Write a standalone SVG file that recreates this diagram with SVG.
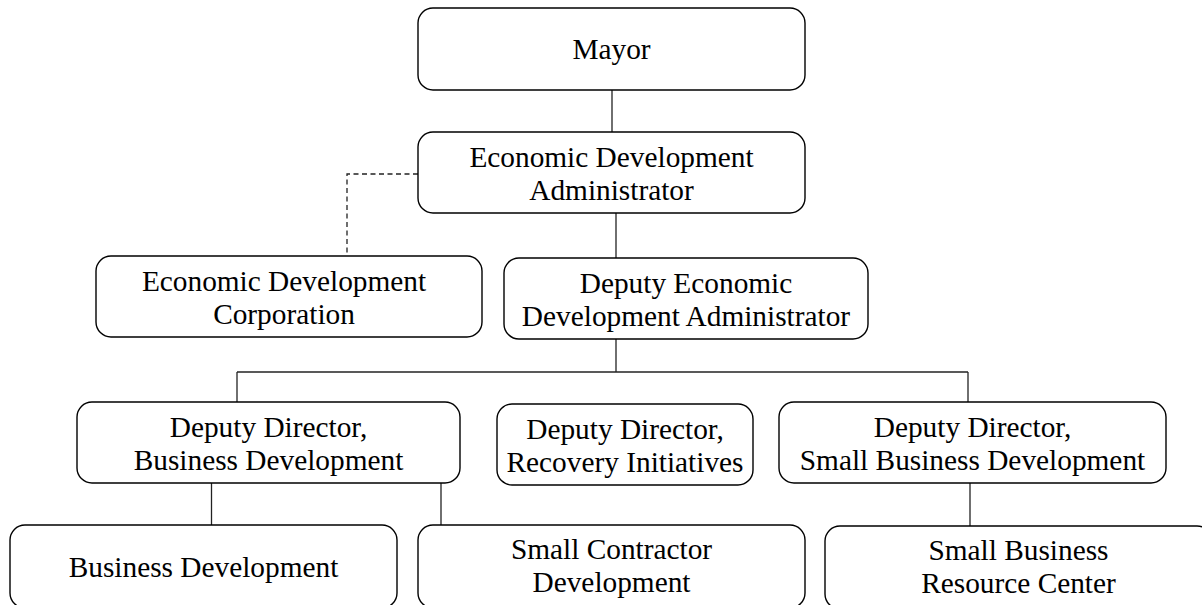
<svg xmlns="http://www.w3.org/2000/svg" width="1202" height="605" viewBox="0 0 1202 605">
<style>
.box{fill:#fff;stroke:#000;stroke-width:1.4}
.t{font-family:"Liberation Serif","Times New Roman",serif;font-size:29.33px;fill:#000;text-anchor:middle}
.c{fill:none;stroke:#222;stroke-width:1.3}
.d{fill:none;stroke:#222;stroke-width:1.3;stroke-dasharray:5,3.5}
</style>
<rect width="1202" height="605" fill="#fff"/>
<g id="connectors">
<path class="c" d="M612,90V132"/>
<path class="d" d="M418,174H347V256"/>
<path class="c" d="M616,213V258"/>
<path class="c" d="M616,339V372"/>
<path class="c" d="M237,372H968"/>
<path class="c" d="M237,372V402"/>
<path class="c" d="M968,372V402"/>
<path class="c" d="M211.5,483V525"/>
<path class="c" d="M441,483V525"/>
<path class="c" d="M970,483V526"/>
</g>
<g id="mayor"><rect class="box" x="418" y="8" width="387" height="82" rx="15"/><text class="t" x="611.5" y="59">Mayor</text></g>
<g id="eda"><rect class="box" x="418" y="132" width="387" height="81" rx="15"/><text class="t" x="611.5" y="167">Economic Development</text><text class="t" x="611.5" y="200">Administrator</text></g>
<g id="edc"><rect class="box" x="96" y="256" width="386" height="81" rx="15"/><text class="t" x="284" y="291">Economic Development</text><text class="t" x="284" y="324">Corporation</text></g>
<g id="deda"><rect class="box" x="504" y="258" width="364" height="81" rx="15"/><text class="t" x="686" y="293">Deputy Economic</text><text class="t" x="686" y="326">Development Administrator</text></g>
<g id="ddbd"><rect class="box" x="77" y="402" width="383" height="81" rx="15"/><text class="t" x="268.5" y="437">Deputy Director,</text><text class="t" x="268.5" y="470">Business Development</text></g>
<g id="ddri"><rect class="box" x="497" y="404" width="256" height="81" rx="15"/><text class="t" x="625" y="439">Deputy Director,</text><text class="t" x="625" y="472">Recovery Initiatives</text></g>
<g id="ddsbd"><rect class="box" x="779" y="402" width="387" height="81" rx="15"/><text class="t" x="972.5" y="437">Deputy Director,</text><text class="t" x="972.5" y="470">Small Business Development</text></g>
<g id="bd"><rect class="box" x="10" y="525" width="387" height="83" rx="15"/><text class="t" x="203.5" y="577">Business Development</text></g>
<g id="scd"><rect class="box" x="418" y="525" width="387" height="83" rx="15"/><text class="t" x="611.5" y="559">Small Contractor</text><text class="t" x="611.5" y="592">Development</text></g>
<g id="sbrc"><rect class="box" x="825" y="526" width="387" height="83" rx="15"/><text class="t" x="1018.5" y="560">Small Business</text><text class="t" x="1018.5" y="593">Resource Center</text></g>
</svg>
